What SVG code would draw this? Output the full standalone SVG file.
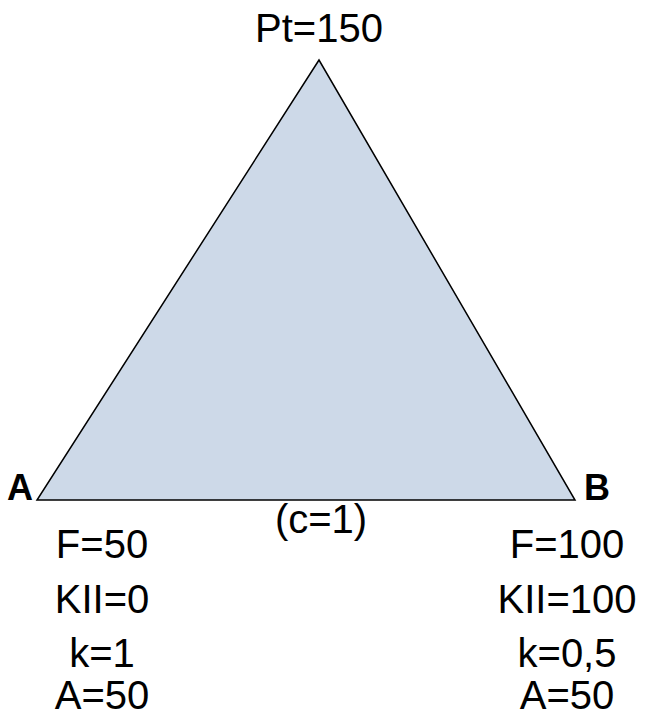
<svg xmlns="http://www.w3.org/2000/svg" width="657" height="714" viewBox="0 0 657 714">
<style>
.t{font-family:"Liberation Sans",Arial,sans-serif;font-size:40px;fill:#000;text-anchor:middle}
.b{font-family:"Liberation Sans",Arial,sans-serif;font-size:36px;font-weight:bold;fill:#000;text-anchor:middle}
</style>
<rect width="657" height="714" fill="#fff"/>
<g id="triangle">
<polygon points="319,60 37,500 575,500" fill="#cdd9e8" stroke="#000" stroke-width="1.5" stroke-linejoin="miter"/>
</g>
<g id="apex"><text class="t" x="319" y="42">Pt=150</text></g>
<g id="nodeA">
<text class="b" x="20" y="500">A</text>
<text class="t" x="102" y="558">F=50</text>
<text class="t" x="102" y="613">KII=0</text>
<text class="t" x="102" y="667">k=1</text>
<text class="t" x="102" y="709">A=50</text>
</g>
<g id="nodeB">
<text class="b" x="597" y="500">B</text>
<text class="t" x="567" y="558">F=100</text>
<text class="t" x="567" y="613">KII=100</text>
<text class="t" x="567" y="667">k=0,5</text>
<text class="t" x="567" y="709">A=50</text>
</g>
<g id="edge"><text class="t" x="321" y="533">(c=1)</text></g>
</svg>
